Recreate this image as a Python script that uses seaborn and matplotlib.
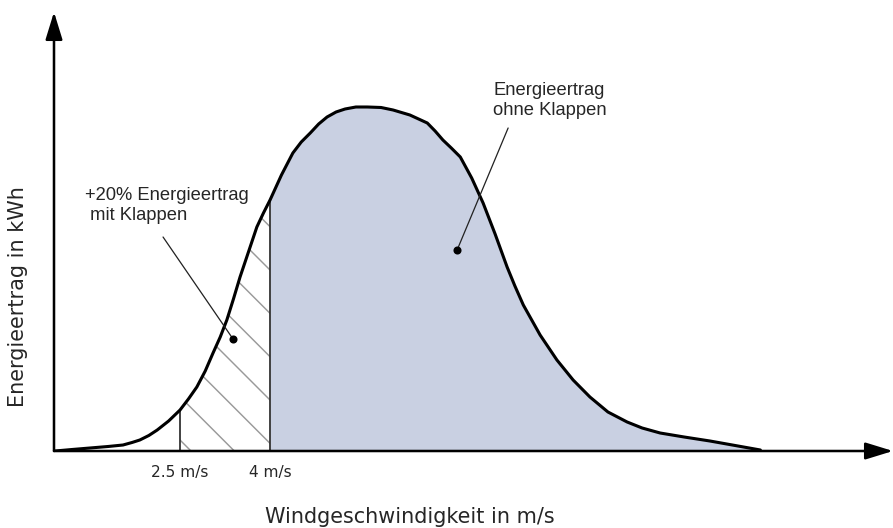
import numpy as np
import pandas as pd
import matplotlib.pyplot as plt
import seaborn as sns

# values (wind speed in m/s, energy yield in arbitrary kWh units)
wind_speed = [0.42, 0.7, 1.0, 1.3, 1.55, 1.7, 1.83, 1.98, 2.12, 2.31, 2.5, 2.64,
              2.78, 2.92, 3.05, 3.17, 3.28, 3.39, 3.5, 3.64, 3.78, 3.89, 4.0,
              4.19, 4.38, 4.52, 4.67, 4.81, 4.95, 5.1, 5.25, 5.43, 5.62, 5.85,
              6.05, 6.33, 6.62, 6.75, 6.88, 7.02, 7.17, 7.36, 7.55, 7.75, 7.95,
              8.08, 8.22, 8.5, 8.78, 9.05, 9.33, 9.63, 9.95, 10.2, 10.5, 10.9,
              11.33, 11.75, 12.17]
energy = [0, 1.5, 3, 4.5, 6, 8.5, 11, 15.5, 21, 30, 41, 52,
          64, 80, 98, 114, 131, 152, 174, 199, 224, 238, 251,
          276, 298, 309, 318, 327, 334, 339, 342, 344, 344, 343.5,
          341, 336, 328, 320, 311, 303, 294, 273, 248, 217, 184,
          165, 146, 116, 91, 71, 54, 39, 29, 23, 18, 14,
          10, 5.5, 1]
tick_speeds = [2.5, 4.0]
tick_labels = ['2.5 m/s', '4 m/s']

df = pd.DataFrame({'v': wind_speed, 'e': energy})
v = df['v'].to_numpy()
e = df['e'].to_numpy()

sns.set_style('white')
plt.rcParams['font.family'] = ['DejaVu Sans']
plt.rcParams['hatch.linewidth'] = 0.8

dpi = 130
fig = plt.figure(figsize=(893 / dpi, 528 / dpi), dpi=dpi)
ax = fig.add_axes([54 / 893, 77 / 528, 839 / 893, 439 / 528])

# filled area (without flaps) and hatched extra yield (with flaps)
ax.fill_between(v, e, where=v >= 4.0, color='#c9d0e2', lw=0)
ax.fill_between(v, e, where=(v >= 2.5) & (v <= 4.0), facecolor='white',
                edgecolor='#999999', hatch='\\', lw=0)
ax.vlines(tick_speeds, 0, [e[v == s][0] for s in tick_speeds], color='#333333', lw=1.0)

sns.lineplot(data=df, x='v', y='e', color='black', lw=1.7, ax=ax,
             solid_joinstyle='round', solid_capstyle='round')

ax.set_xlim(0.4, 14.38)
ax.set_ylim(0, 439)
sns.despine(ax=ax, left=True, bottom=True)

# axis arrows
head = dict(arrowstyle='-|>,head_length=0.65,head_width=0.2', color='black',
            lw=1.4, mutation_scale=20, shrinkA=0, shrinkB=0)
ax.annotate('', xy=(0, 1), xytext=(0, 0), xycoords='axes fraction', arrowprops=head,
            annotation_clip=False)
ax.annotate('', xy=(1, 0), xytext=(0, 0), xycoords='axes fraction', arrowprops=head,
            annotation_clip=False)

ax.set_xticks(tick_speeds)
ax.set_xticklabels(tick_labels)
ax.set_yticks([])
ax.tick_params(axis='x', length=0, pad=8, labelsize=8.5)

ax.set_xlabel('Windgeschwindigkeit in m/s', fontsize=11.5)
ax.set_ylabel('Energieertrag in kWh', fontsize=11.5)
ax.xaxis.set_label_coords(0.424, -0.127)
ax.yaxis.set_label_coords(-0.031, 0.351)

# annotations
ax.text(7.717, 369, 'Energieertrag\nohne Klappen', family=['Liberation Sans'],
        fontsize=10.2, ha='left', va='top')
ax.plot([7.117, 7.967], [201, 323], color='#222222', lw=0.7)
ax.scatter([7.117], [201], s=12, color='black', zorder=5)

ax.text(0.917, 264, '+20% Energieertrag\n mit Klappen', family=['Liberation Sans'],
        fontsize=10.2, ha='left', va='top')
ax.plot([3.383, 2.217], [112, 214], color='#222222', lw=0.7)
ax.scatter([3.383], [112], s=12, color='black', zorder=5)

fig.savefig('out.png', dpi=dpi)
